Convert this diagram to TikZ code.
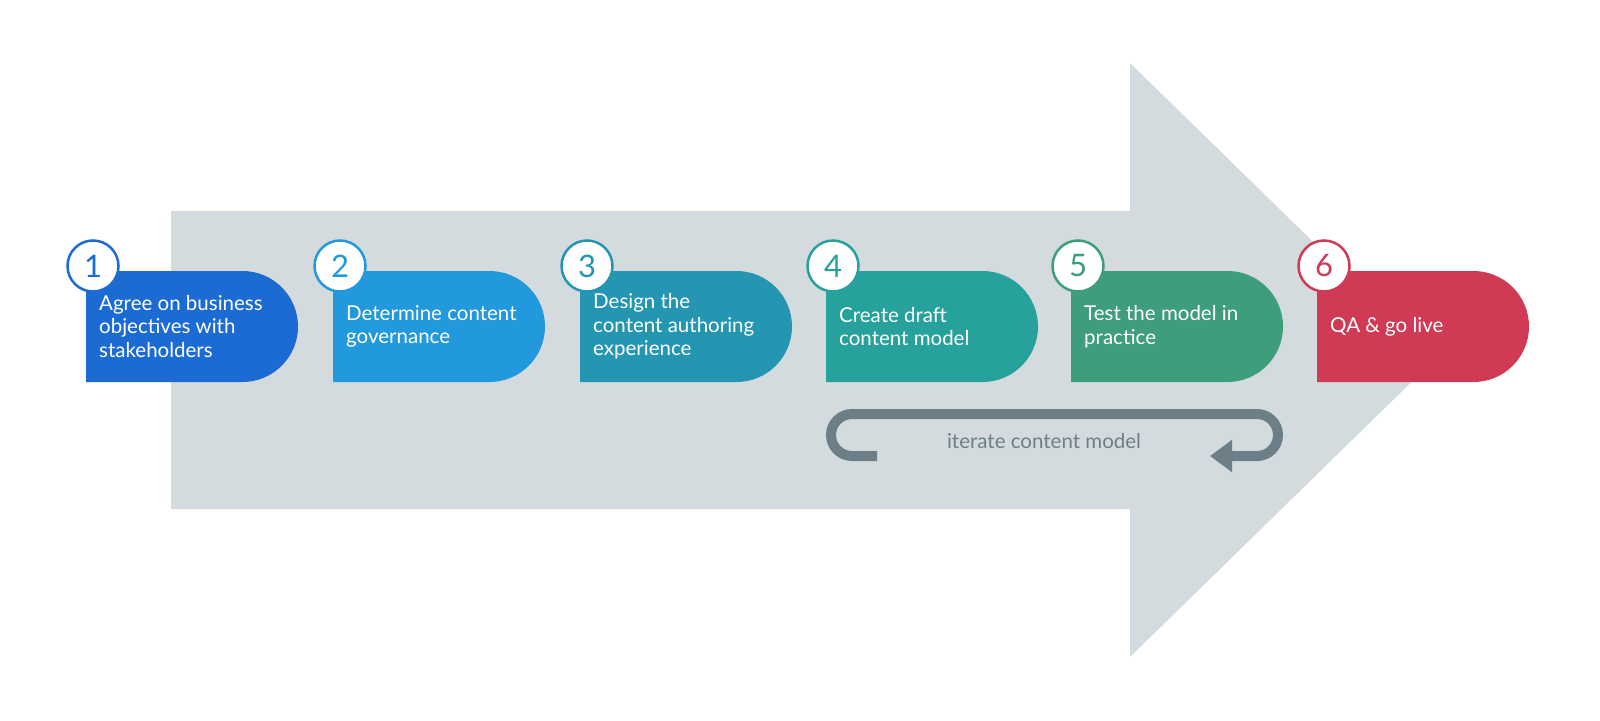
\documentclass[tikz,border=0pt]{standalone}
\usepackage{fontspec}
\setmainfont{Lato}
\usetikzlibrary{arrows.meta}
\definecolor{arrowgray}{HTML}{D4DBDF}
\definecolor{loopgray}{HTML}{6D7F86}
\definecolor{cA}{HTML}{1C6BD3}
\definecolor{cB}{HTML}{2299DD}
\definecolor{cC}{HTML}{2496B2}
\definecolor{cD}{HTML}{27A19C}
\definecolor{cE}{HTML}{3E9D7A}
\definecolor{cF}{HTML}{D03A55}
\tikzset{
  steptext/.style={text=white, align=left, inner sep=0pt, anchor=west,
    font=\fontsize{20.5}{23.5}\selectfont},
  numcirc/.style={circle, fill=white, line width=2.5pt, minimum size=51pt,
    inner sep=0pt, font=\fontsize{31}{31}\selectfont},
  looptext/.style={text=loopgray, inner sep=0pt, font=\fontsize{20.5}{23.5}\selectfont},
}
\newcommand\mkstep[5]{%
  \fill[#2] (#1,271) -- ({#1+156.5},271) arc[start angle=-90,end angle=90,radius=55.5] -- (#1,382) -- cycle;
  \node[steptext] (#5t) at ({#1+13},326.5) {#4};
  \node[numcirc, draw=#2, text=#2] (#5c) at ({#1+7},266) {#3};
}
\begin{document}
\begin{tikzpicture}[x=1pt,y=-1pt]
\useasboundingbox (0,0) rectangle (1600,720);
% big arrow
\fill[arrowgray] (171,211) -- (1130,211) -- (1130,63) -- (1434,360) -- (1130,657) -- (1130,509) -- (171,509) -- cycle;
% steps
\mkstep{86}{cA}{1}{Agree on business\\objectives with\\stakeholders}{s1}
\mkstep{333}{cB}{2}{Determine content\\governance}{s2}
\mkstep{580}{cC}{3}{Design the\\content authoring\\experience}{s3}
\mkstep{826}{cD}{4}{Create draft\\content model}{s4}
\mkstep{1071}{cE}{5}{Test the model in\\practice}{s5}
\mkstep{1317}{cF}{6}{QA \& go live}{s6}
% iterate loop
\coordinate (ls) at (877,456);
\coordinate (le) at (1210,456);
\draw[loopgray, line width=10pt, -{Triangle[width=31pt,length=22pt]}]
  (ls) -- (852,456) arc[start angle=90,end angle=270,radius=21]
  -- (1257,414) arc[start angle=-90,end angle=90,radius=21] -- (le);
\node[looptext] (lt) at (1044,441) {iterate content model};
\end{tikzpicture}
\end{document}
